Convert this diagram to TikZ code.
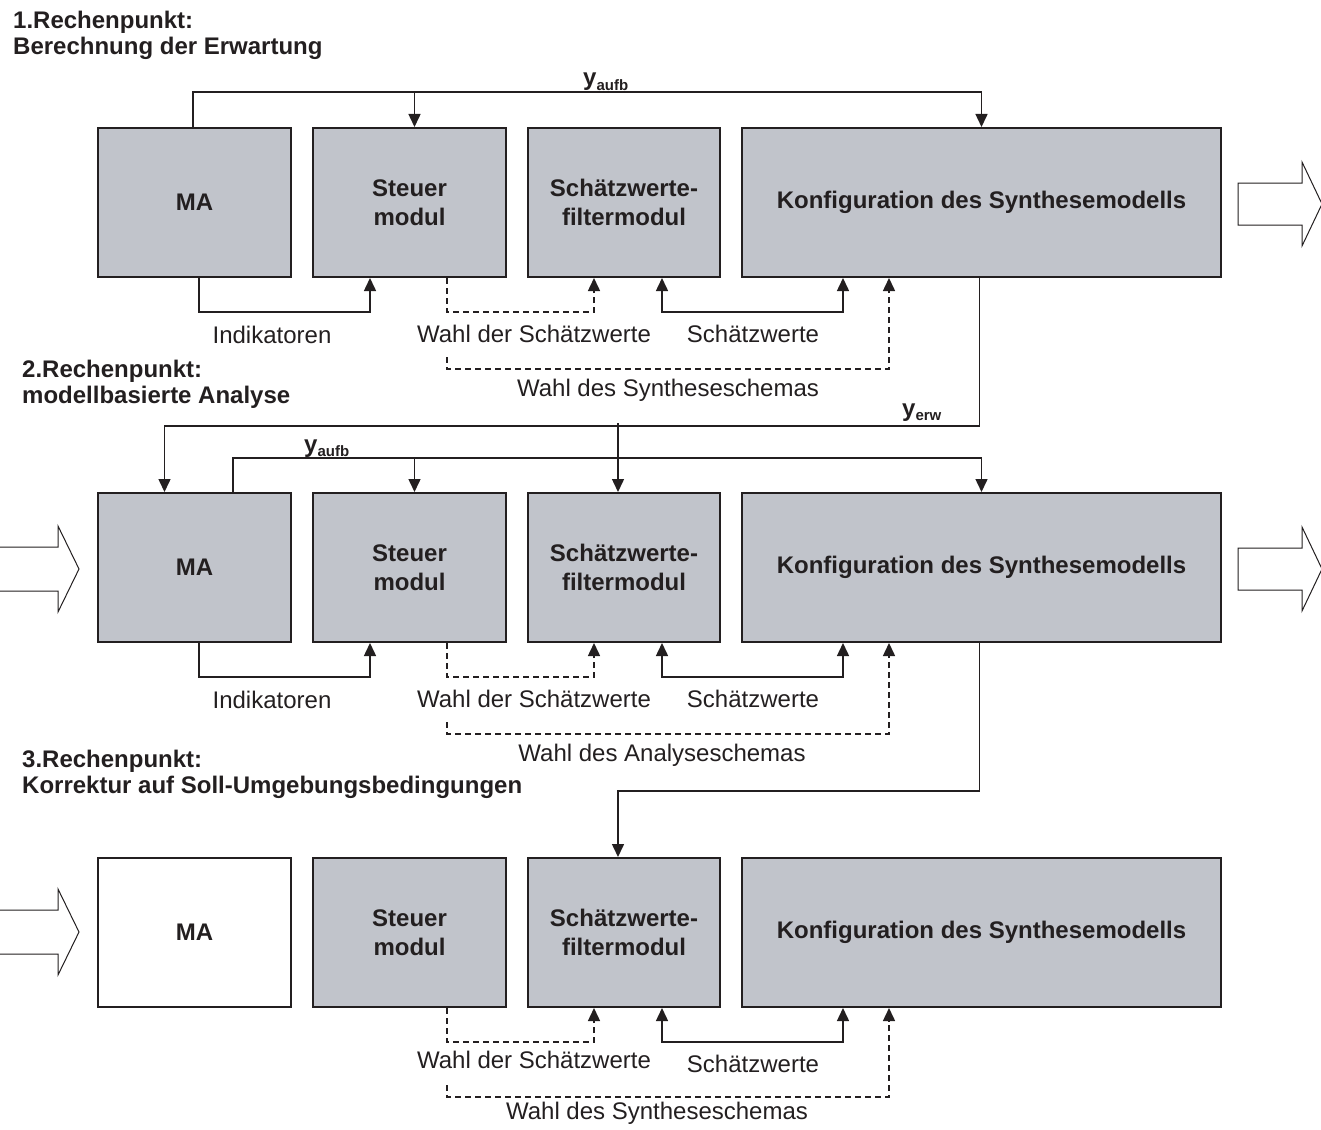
\documentclass[tikz,border=0pt]{standalone}
\usepackage{fontspec}
\setmainfont{Liberation Sans}
\usetikzlibrary{arrows.meta,calc}
\definecolor{ink}{HTML}{231F20}
\definecolor{boxgray}{RGB}{193,196,203}
\newcommand{\ysub}[1]{\textbf{y}\raisebox{-4.5pt}{\fontsize{15}{15}\selectfont\bfseries #1}}
\begin{document}
\begin{tikzpicture}[x=1pt,y=-1pt,
  modbox/.style={draw=ink,line width=2pt,fill=boxgray,anchor=north west,
    minimum height=149pt,inner sep=0pt,align=center,text=ink,
    font=\fontsize{24}{29}\selectfont\bfseries},
  conn/.style={draw=ink,line width=1.5pt},
  arrowed/.style={-{Triangle[length=13pt,width=12pt]}},
  twoway/.style={{Triangle[length=13pt,width=12pt]}-{Triangle[length=13pt,width=12pt]}},
  dashedline/.style={dash pattern=on 6pt off 4pt},
  lbl/.style={inner sep=0pt,text=ink,font=\fontsize{24}{26}\selectfont},
  headline/.style={anchor=north west,inner sep=0pt,align=left,text=ink,
    font=\fontsize{24}{26}\selectfont\bfseries},
  ylabel/.style={anchor=base west,inner sep=0pt,text=ink,font=\fontsize{24}{26}\selectfont},
  bigarrow/.style={draw=ink,line width=1pt,fill=white,line join=miter}
]
\useasboundingbox (0,0) rectangle (1321,1129);

% ---------- stage headings ----------
\node[headline] (h1) at (13,10.5) {1.Rechenpunkt:\\Berechnung der Erwartung};
\node[headline] (h2) at (22,359.5) {2.Rechenpunkt:\\modellbasierte Analyse};
\node[headline] (h3) at (22,749.5) {3.Rechenpunkt:\\Korrektur auf Soll-Umgebungsbedingungen};

% ---------- module rows ----------
\foreach \r/\top in {1/127,2/492,3/857}{
  \node[modbox,minimum width=193pt] (st\r) at (312,\top) {Steuer\\modul};
  \node[modbox,minimum width=192pt] (sf\r) at (527,\top) {Schätzwerte-\\filtermodul};
  \node[modbox,minimum width=479pt] (ko\r) at (741,\top) {Konfiguration des Synthesemodells};
}
\node[modbox,minimum width=193pt] (ma1) at (97,127) {MA};
\node[modbox,minimum width=193pt] (ma2) at (97,492) {MA};
\node[modbox,minimum width=193pt,fill=white] (ma3) at (97,857) {MA};

% ---------- hand-over block arrows ----------
\draw[bigarrow] (1238,183) -- (1302,183) -- (1302,162) -- (1322,204) -- (1302,246) -- (1302,225) -- (1238,225) -- cycle;
\draw[bigarrow] (1238,548) -- (1302,548) -- (1302,527) -- (1322,569) -- (1302,611) -- (1302,590) -- (1238,590) -- cycle;
\draw[bigarrow] (-3,547) -- (58,547) -- (58,526) -- (79,569) -- (58,612) -- (58,591) -- (-3,591);
\draw[bigarrow] (-3,910) -- (58,910) -- (58,889) -- (79,932) -- (58,975) -- (58,954) -- (-3,954);

% ---------- stage 1: feedback y_aufb ----------
\draw[conn,arrowed] ([xshift=96pt]ma1.north west) -- ++(0,-35) -| (ko1.north);
\draw[conn,arrowed] ([xshift=5pt]st1.north) ++(0,-35) -- ([xshift=5pt]st1.north);
\node[ylabel] (ya1) at (583,86) {\ysub{aufb}};

% ---------- stage 1: lower connections ----------
\draw[conn,arrowed] ([xshift=102pt]ma1.south west) -- ++(0,34) -| ([xshift=58pt]st1.south west);
\draw[conn,dashedline,arrowed] ([xshift=135pt]st1.south west) -- ++(0,34) -| ([xshift=67pt]sf1.south west);
\draw[conn,twoway] ([xshift=135pt]sf1.south west) -- ++(0,34) -| ([xshift=102pt]ko1.south west);
\draw[conn,dashedline,arrowed] ([xshift=135pt]st1.south west) ++(0,79) -- ++(0,12) -| ([xshift=148pt]ko1.south west);
\node[lbl] (ind1) at (272,335) {Indikatoren};
\node[lbl] (wsw1) at (534,334) {Wahl der Schätzwerte};
\node[lbl] (sw1) at (753,334) {Schätzwerte};
\node[lbl] (wss1) at (668,390) {Wahl des Syntheseschemas};

% ---------- stage 1 -> stage 2: y_erw ----------
\draw[conn,arrowed] ([xshift=-2pt]ko1.south) -- ++(0,148) -| ([xshift=-30pt]ma2.north);
\draw[conn,arrowed] ([xshift=-6pt]sf2.north) ++(0,-69) -- ([xshift=-6pt]sf2.north);
\node[ylabel] (ye1) at (902,416) {\ysub{erw}};

% ---------- stage 2: feedback y_aufb ----------
\draw[conn,arrowed] ([xshift=136pt]ma2.north west) -- ++(0,-34) -| (ko2.north);
\draw[conn,arrowed] ([xshift=5pt]st2.north) ++(0,-34) -- ([xshift=5pt]st2.north);
\node[ylabel] (ya2) at (304,452) {\ysub{aufb}};

% ---------- stage 2: lower connections ----------
\draw[conn,arrowed] ([xshift=102pt]ma2.south west) -- ++(0,34) -| ([xshift=58pt]st2.south west);
\draw[conn,dashedline,arrowed] ([xshift=135pt]st2.south west) -- ++(0,34) -| ([xshift=67pt]sf2.south west);
\draw[conn,twoway] ([xshift=135pt]sf2.south west) -- ++(0,34) -| ([xshift=102pt]ko2.south west);
\draw[conn,dashedline,arrowed] ([xshift=135pt]st2.south west) ++(0,79) -- ++(0,12) -| ([xshift=148pt]ko2.south west);
\node[lbl] (ind2) at (272,700) {Indikatoren};
\node[lbl] (wsw2) at (534,699) {Wahl der Schätzwerte};
\node[lbl] (sw2) at (753,699) {Schätzwerte};
\node[lbl] (was2) at (662,755) {Wahl des Analyseschemas};

% ---------- stage 2 -> stage 3 ----------
\draw[conn,arrowed] ([xshift=-2pt]ko2.south) -- ++(0,148) -| ([xshift=-6pt]sf3.north);

% ---------- stage 3: lower connections ----------
\draw[conn,dashedline,arrowed] ([xshift=135pt]st3.south west) -- ++(0,34) -| ([xshift=67pt]sf3.south west);
\draw[conn,twoway] ([xshift=135pt]sf3.south west) -- ++(0,34) -| ([xshift=102pt]ko3.south west);
\draw[conn,dashedline,arrowed] ([xshift=135pt]st3.south west) ++(0,77) -- ++(0,12) -| ([xshift=148pt]ko3.south west);
\node[lbl] (wsw3) at (534,1060) {Wahl der Schätzwerte};
\node[lbl] (sw3) at (753,1064) {Schätzwerte};
\node[lbl] (wss3) at (657,1113) {Wahl des Syntheseschemas};
\end{tikzpicture}
\end{document}
